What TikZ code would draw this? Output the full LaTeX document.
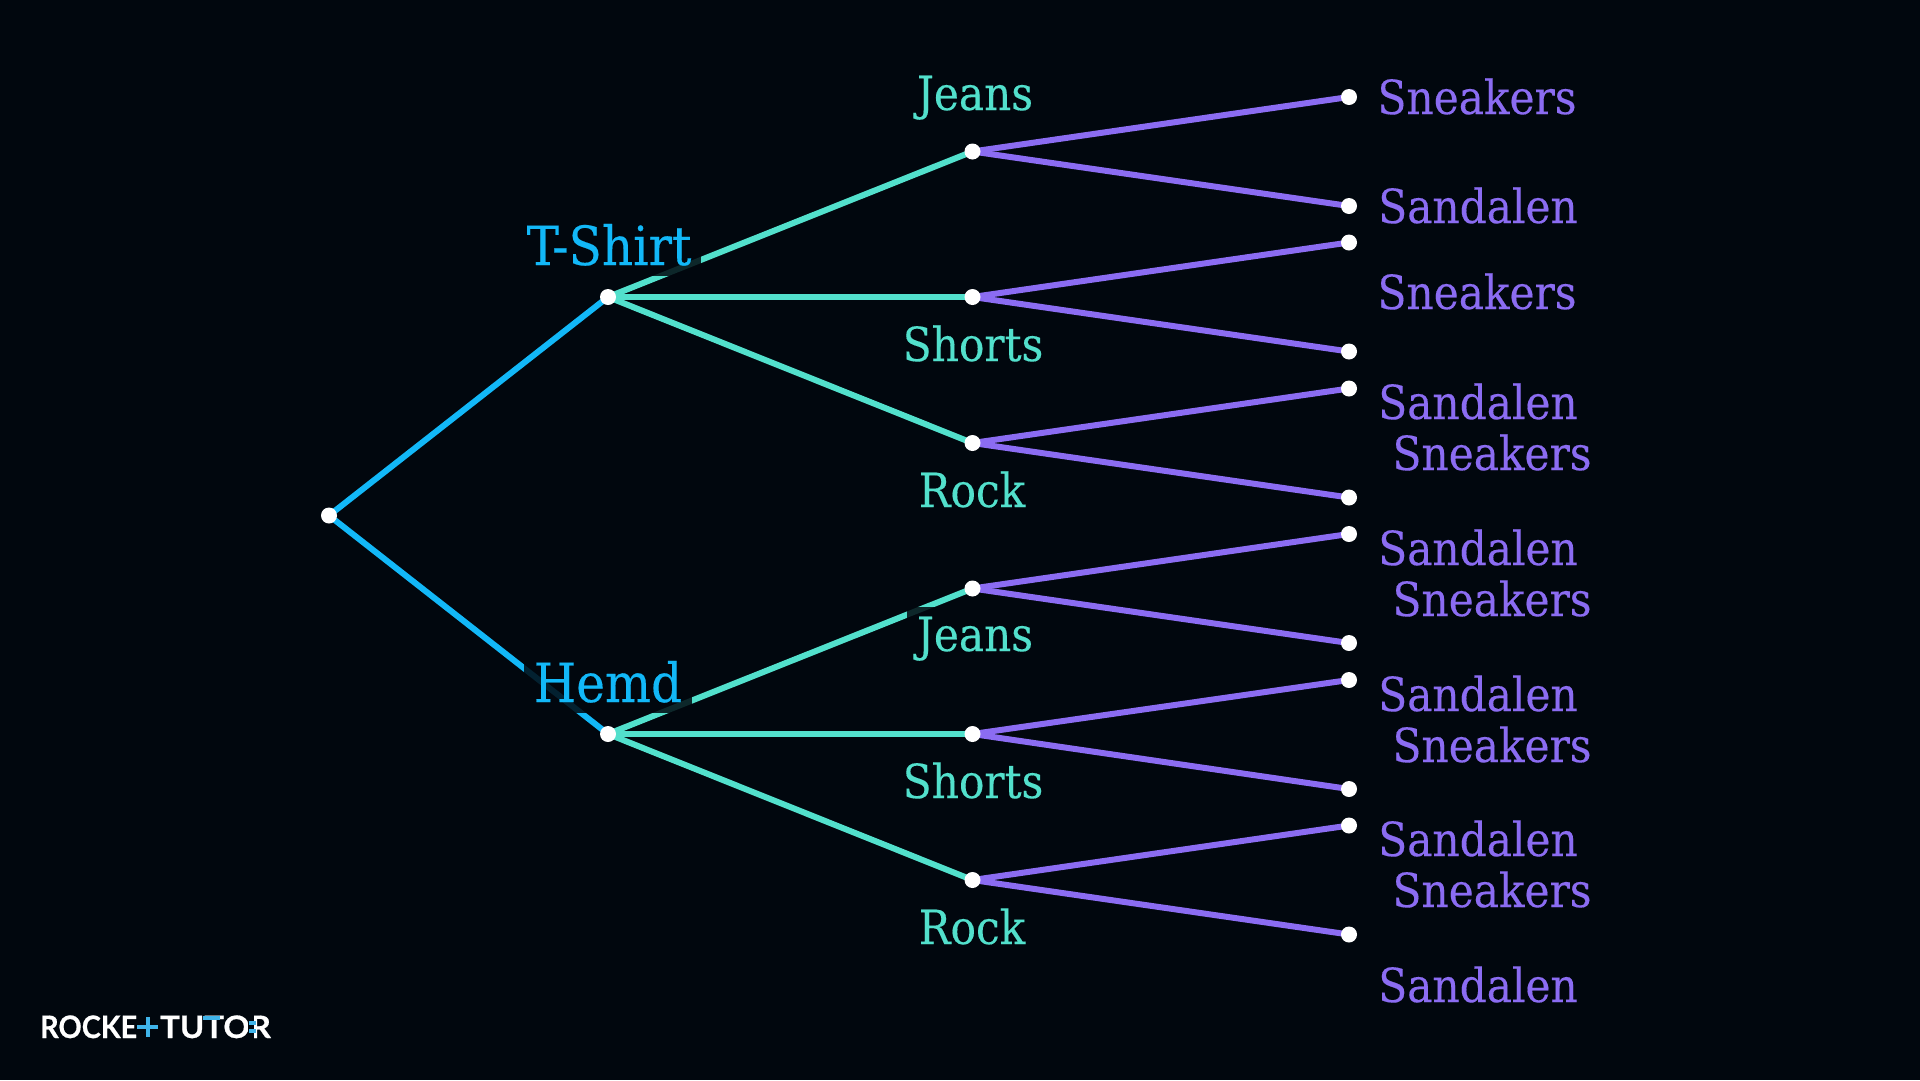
\documentclass[tikz,border=0pt]{standalone}
\usepackage{fontspec}
\setmainfont{DejaVu Serif Condensed}[FakeBold=0.25]
\newfontfamily\logofonta{Lato}[FakeStretch=0.93, FakeBold=0.6]
\newfontfamily\logofontb{Lato}[FakeStretch=1.06, FakeBold=0.6]
\usetikzlibrary{positioning}
\definecolor{bgdark}{HTML}{01070E}
\definecolor{levela}{HTML}{12B8F8}
\definecolor{levelb}{HTML}{52E0CC}
\definecolor{levelc}{HTML}{8B6CF2}
\definecolor{logoblue}{HTML}{3FB4EA}
\pgfdeclarelayer{edges}
\pgfsetlayers{edges,main}
\tikzset{
    dot/.style={circle, fill=white, inner sep=0pt, minimum size=16pt},
    linea/.style={levela, line width=6pt},
    lineb/.style={levelb, line width=6pt},
    linec/.style={levelc, line width=6pt},
    lbl/.style={anchor=base, inner sep=10pt, font=\fontsize{47}{47}\selectfont},
    lblbox/.style={fill=bgdark, fill opacity=0.85, text opacity=1},
    lbla/.style={lbl, lblbox, text=levela, font=\fontsize{54}{54}\selectfont},
    lblb/.style={lbl, lblbox, text=levelb},
    lblc/.style={lbl, text=levelc},
    logo/.style={anchor=base west, inner sep=0pt, text=white},
}
\begin{document}
\begin{tikzpicture}[x=1pt, y=-1pt]
    \useasboundingbox (0, 0) rectangle (1920, 1080);

    % Points of the tree
    \node[dot] (R) at (329, 515.5) {};
    \node[dot] (T) at (608, 297) {};
    \node[dot] (H) at (608, 734) {};

    \node[dot] (TJ) at (972.5, 151.5) {};
    \node[dot] (TS) at (972.5, 297) {};
    \node[dot] (TR) at (972.5, 443) {};
    \node[dot] (HJ) at (972.5, 588.5) {};
    \node[dot] (HS) at (972.5, 734) {};
    \node[dot] (HR) at (972.5, 880) {};

    \foreach \name/\y in {a/97, b/206, c/242.5, d/351.5, e/388.5, f/497.5, g/534, h/643, i/680, j/789, k/825.5, l/934.5}
        \node[dot] (\name) at (1349, \y) {};

    % Branches
    \begin{pgfonlayer}{edges}
        \fill[bgdark] (0, 0) rectangle (1920, 1080);
        \draw[linea] (R.center) -- (T.center);
        \draw[linea] (R.center) -- (H.center);
        \foreach \from/\to in {T/TJ, T/TS, T/TR, H/HJ, H/HS, H/HR}
            \draw[lineb] (\from.center) -- (\to.center);
        \foreach \from/\to in {TJ/a, TJ/b, TS/c, TS/d, TR/e, TR/f, HJ/g, HJ/h, HS/i, HS/j, HR/k, HR/l}
            \draw[linec] (\from.center) -- (\to.center);
    \end{pgfonlayer}

    % First level
    \node[lbla] (tshirt) at (609, 265) {T-Shirt};
    \node[lbla] (hemd) at (608, 702) {Hemd};

    % Second level
    \node[lblb] (jeansa) at (975, 110) {Jeans};
    \node[lblb] (shortsa) at (973, 361) {Shorts};
    \node[lblb] (rocka) at (972, 507) {Rock};
    \node[lblb] (jeansb) at (975, 651) {Jeans};
    \node[lblb] (shortsb) at (973, 798) {Shorts};
    \node[lblb] (rockb) at (972, 944) {Rock};

    % Third level
    \node[lblc] (sa) at (1477, 114) {Sneakers};
    \node[lblc] (sb) at (1478, 223) {Sandalen};
    \node[lblc] (sc) at (1477, 309) {Sneakers};
    \node[lblc] (sd) at (1478, 419) {Sandalen};
    \node[lblc] (se) at (1492, 470) {Sneakers};
    \node[lblc] (sf) at (1478, 565) {Sandalen};
    \node[lblc] (sg) at (1492, 616) {Sneakers};
    \node[lblc] (sh) at (1478, 711) {Sandalen};
    \node[lblc] (si) at (1492, 762) {Sneakers};
    \node[lblc] (sj) at (1478, 856) {Sandalen};
    \node[lblc] (sk) at (1492, 907) {Sneakers};
    \node[lblc] (sl) at (1478, 1002) {Sandalen};

    % Logo
    \node[logo, font=\logofonta\bfseries\fontsize{31}{31}\selectfont] (rocke) at (40, 1038) {ROCKE};
    \fill[logoblue] (137, 1024.5) rectangle (158, 1029);
    \fill[logoblue] (145.5, 1017) rectangle (150, 1037);
    \node[logo, font=\logofontb\bfseries\fontsize{31}{31}\selectfont] (tutor) at (160, 1038) {TUTOR};
    \fill[logoblue] (203, 1015.5) rectangle (220, 1020);
    \fill[bgdark] (248, 1014) rectangle (253.5, 1040);
    \fill[logoblue] (249, 1021) rectangle (256, 1025);
    \fill[logoblue] (249, 1029) rectangle (256, 1033);
\end{tikzpicture}
\end{document}
